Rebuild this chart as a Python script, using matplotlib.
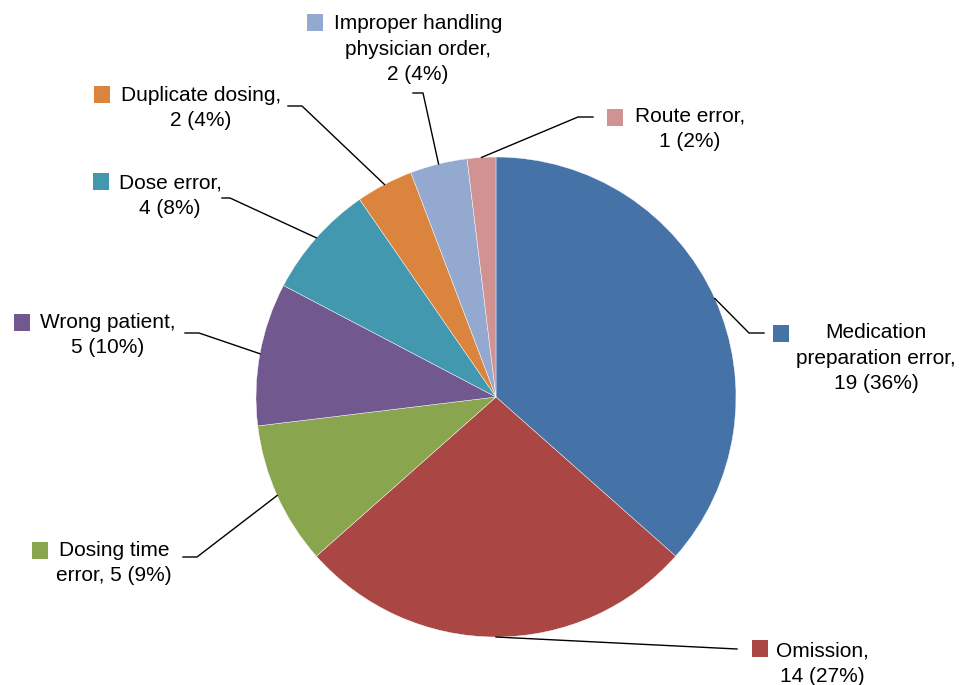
import numpy as np
import matplotlib
matplotlib.use("Agg")
from matplotlib import pyplot as plt
from matplotlib.patches import Rectangle

# data, clockwise from 12 o'clock
categories = ["Medication\npreparation error,", "Omission,", "Dosing time\nerror,",
              "Wrong patient,", "Dose error,", "Duplicate dosing,",
              "Improper handling\nphysician order,", "Route error,"]
counts = [19, 14, 5, 5, 4, 2, 2, 1]
pct_labels = ["36%", "27%", "9%", "10%", "8%", "4%", "4%", "2%"]
colors = ["#4572A7", "#AA4643", "#89A54E", "#71588F",
          "#4198AF", "#DB843D", "#93A9CF", "#D19392"]

# label text, built from the values
texts = []
for cat, n, p in zip(categories, counts, pct_labels):
    if cat.startswith("Dosing time"):
        texts.append("Dosing time\nerror, %d (%s)" % (n, p))
    else:
        texts.append("%s\n%d (%s)" % (cat, n, p))

# layout (pixel coords, y down)
cx, cy, r = 496, 397, 240
text_pos = [(876, 358), (822, 664), (114, 563), (108, 335),
            (170, 196), (201, 108), (418, 49), (690, 129)]
square_pos = [(781, 333), (760, 648), (40, 550), (22, 322),
              (101, 181), (102, 94), (315, 22), (615, 117)]
elbows = [(749, 333), (737, 649), (197, 557), (199, 333),
          (230, 198), (302, 106), (423, 93), (578, 117)]
ends = [(764, 333), (737, 649), (183, 557), (185, 333),
        (222, 198), (288, 106), (413, 93), (593, 117)]

plt.rcParams['font.family'] = ['Liberation Sans', 'DejaVu Sans']

fig = plt.figure(figsize=(9.59, 6.85), dpi=100)
ax = fig.add_axes([0, 0, 1, 1])

# y axis is flipped, so counterclock in data = clockwise on screen
ax.pie(counts, colors=colors, startangle=-90, counterclock=True,
       center=(cx, cy), radius=r, frame=True,
       wedgeprops=dict(edgecolor='white', linewidth=0.3))
ax.set_xlim(0, 959)
ax.set_ylim(685, 0)
ax.set_aspect('equal')
ax.axis('off')

total = float(sum(counts))
cum = np.cumsum(counts) - np.array(counts) / 2.0
for i in range(len(counts)):
    th = np.deg2rad(-90 + 360.0 * cum[i] / total)
    sx, sy = cx + r * np.cos(th), cy + r * np.sin(th)
    ex, ey = elbows[i]
    fx, fy = ends[i]
    ax.plot([sx, ex, fx], [sy, ey, fy], color='black', lw=1.0)
    qx, qy = square_pos[i]
    ax.add_patch(Rectangle((qx - 8, qy - 8.5), 16, 17, facecolor=colors[i],
                           edgecolor='none'))
    tx, ty = text_pos[i]
    ax.text(tx, ty, texts[i], ha='center', va='center', multialignment='center',
            fontsize=15, color='black', linespacing=1.42)

fig.savefig("out.png", dpi=100)
